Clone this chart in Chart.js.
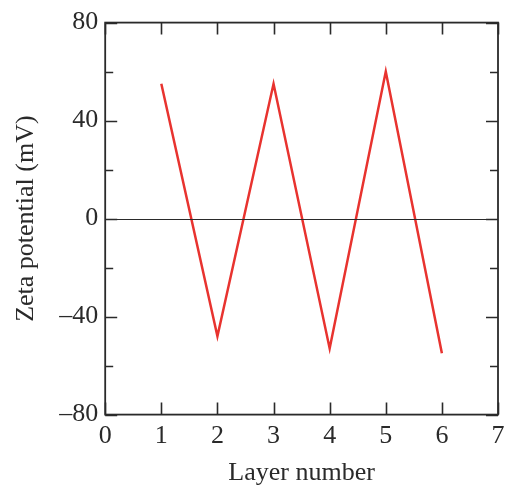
<!DOCTYPE html>
<html>
<head>
<meta charset="utf-8">
<script src="https://cdn.jsdelivr.net/npm/chart.js@4"></script>
<style>
	html, body { margin: 0; padding: 0; background: #fff; }
	#wrap { width: 505px; height: 489px; }
</style>
</head>
<body>
<div id="wrap"><canvas id="zetaChart"></canvas></div>
<script>
const layers = [1, 2, 3, 4, 5, 6];
const zeta = [55, -48, 55, -53, 60, -55];
const xTicks = [0, 1, 2, 3, 4, 5, 6, 7];
const yLabelled = [-80, -40, 0, 40, 80];

const serif = "'Liberation Serif', 'DejaVu Serif', serif";
const ink = '#2a2a2a';

/* ---------- frame, inward ticks, zero line ---------- */
const framePlugin = {
	id: 'frame',
	afterDatasetsDraw(chart) {
		const { ctx, chartArea: a, scales: { x, y } } = chart;
		ctx.save();
		ctx.strokeStyle = ink;
		ctx.lineWidth = 1;
		// zero line
		const y0 = Math.round(y.getPixelForValue(0)) + 0.5;
		ctx.beginPath(); ctx.moveTo(a.left, y0); ctx.lineTo(a.right, y0); ctx.stroke();
		ctx.lineWidth = 1.6;
		ctx.beginPath();
		y.ticks.forEach(t => {
			const py = Math.round(y.getPixelForValue(t.value)) + 0.5;
			const len = yLabelled.includes(t.value) ? 12 : 8;
			ctx.moveTo(a.left, py); ctx.lineTo(a.left + len, py);
			ctx.moveTo(a.right, py); ctx.lineTo(a.right - len, py);
		});
		x.ticks.forEach(t => {
			const px = Math.round(x.getPixelForValue(t.value)) + 0.5;
			ctx.moveTo(px, a.bottom); ctx.lineTo(px, a.bottom - 12);
			ctx.moveTo(px, a.top); ctx.lineTo(px, a.top + 12);
		});
		ctx.stroke();
		ctx.lineWidth = 1.8;
		ctx.strokeRect(a.left, a.top, a.right - a.left, a.bottom - a.top);
		ctx.restore();
	}
};

window.addEventListener('DOMContentLoaded', function() {
	const ctx = document.getElementById('zetaChart').getContext('2d');
	new Chart(ctx, {
		type: 'line',
		data: {
			datasets: [{
				data: layers.map((l, i) => ({ x: l, y: zeta[i] })),
				borderColor: '#e8332f',
				borderWidth: 2.5,
				pointRadius: 0,
				tension: 0,
				fill: false
			}]
		},
		options: {
			responsive: true,
			maintainAspectRatio: false,
			animation: false,
			layout: { padding: { top: 10, right: 7, left: 11, bottom: 0 } },
			plugins: { legend: { display: false }, tooltip: { enabled: false } },
			scales: {
				x: {
					type: 'linear', min: 0, max: 7,
					afterBuildTicks: s => { s.ticks = xTicks.map(v => ({ value: v })); },
					afterFit: s => { s.paddingRight = 0; },
					grid: { display: false, drawTicks: false },
					border: { display: false },
					ticks: { color: ink, font: { family: serif, size: 26 }, padding: 6, maxRotation: 0 },
					title: { display: true, text: 'Layer number', color: ink, font: { family: serif, size: 26 }, padding: { top: 0, bottom: 0 } }
				},
				y: {
					type: 'linear', min: -80, max: 80,
					ticks: {
						stepSize: 20, color: ink, font: { family: serif, size: 26 }, padding: 7,
						callback: v => yLabelled.includes(v) ? String(v).replace('-', '\u2013') : ''
					},
					grid: { display: false, drawTicks: false },
					border: { display: false },
					title: { display: true, text: 'Zeta potential (mV)', color: ink, font: { family: serif, size: 26 }, padding: { top: 0, bottom: 10 } }
				}
			}
		},
		plugins: [framePlugin]
	});
});
</script>
</body>
</html>
